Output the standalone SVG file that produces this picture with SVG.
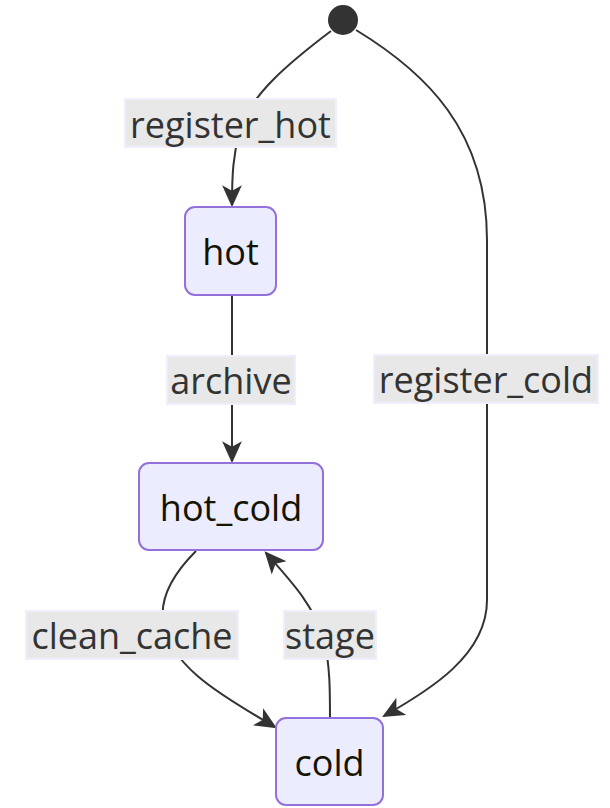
<svg xmlns="http://www.w3.org/2000/svg" width="610" height="808" viewBox="0 0 610 808">
  <style>
    .node rect { fill: #ECECFF; stroke: #9370DB; stroke-width: 2; }
    .node text { font-family: "Open Sans", "DejaVu Sans", sans-serif; font-size: 36px; fill: #131300; text-anchor: middle; dominant-baseline: central; }
    .edge { fill: none; stroke: #333; stroke-width: 2; }
    .lbl rect { fill: #e8e8e8; stroke: #f0eefc; stroke-width: 2; }
    .lbl text { font-family: "Open Sans", "DejaVu Sans", sans-serif; font-size: 36px; fill: #333; text-anchor: middle; dominant-baseline: central; }
  </style>
  <defs>
    <marker id="arrow" viewBox="0 0 20 20" refX="18" refY="10" markerWidth="22" markerHeight="22" markerUnits="userSpaceOnUse" orient="auto">
      <path d="M0,1 L20,10 L0,19 L5,10 Z" fill="#333"/>
    </marker>
  </defs>

  <g id="connectors">
    <path class="edge" d="M331,31 C290,62 250,95 240,130 C233,155 232,175 232,205" marker-end="url(#arrow)"/>
    <path class="edge" d="M356,30 C425,72 487,130 487,240 L487,600 C487,655 430,690 384,716" marker-end="url(#arrow)"/>
    <path class="edge" d="M232,296 L232,461" marker-end="url(#arrow)"/>
    <path class="edge" d="M196,551 C175,572 160,595 163,620 C168,668 230,700 275,727" marker-end="url(#arrow)"/>
    <path class="edge" d="M330,718 C330,690 330,665 324,640 C314,605 290,580 266,553" marker-end="url(#arrow)"/>
  </g>

  <g id="edge-labels">
    <g class="lbl" id="lbl-register_hot"><rect x="125" y="99" width="211" height="48"/><text x="230.5" y="124">register_hot</text></g>
    <g class="lbl" id="lbl-archive"><rect x="167" y="356" width="128" height="48"/><text x="231" y="380">archive</text></g>
    <g class="lbl" id="lbl-register_cold"><rect x="374" y="355" width="224" height="48"/><text x="486" y="379">register_cold</text></g>
    <g class="lbl" id="lbl-clean_cache"><rect x="26" y="611" width="212" height="48"/><text x="132" y="635">clean_cache</text></g>
    <g class="lbl" id="lbl-stage"><rect x="284" y="611" width="92" height="48"/><text x="330" y="635">stage</text></g>
  </g>

  <g id="start">
    <circle cx="343" cy="20" r="15" fill="#333"/>
  </g>
  <g class="node" id="hot">
    <rect x="185" y="207" width="91" height="88" rx="10"/>
    <text x="230.5" y="251">hot</text>
  </g>
  <g class="node" id="hot_cold">
    <rect x="139" y="463" width="184" height="87" rx="10"/>
    <text x="231" y="507">hot_cold</text>
  </g>
  <g class="node" id="cold">
    <rect x="276" y="718" width="107" height="87" rx="10"/>
    <text x="329.5" y="762">cold</text>
  </g>
</svg>
